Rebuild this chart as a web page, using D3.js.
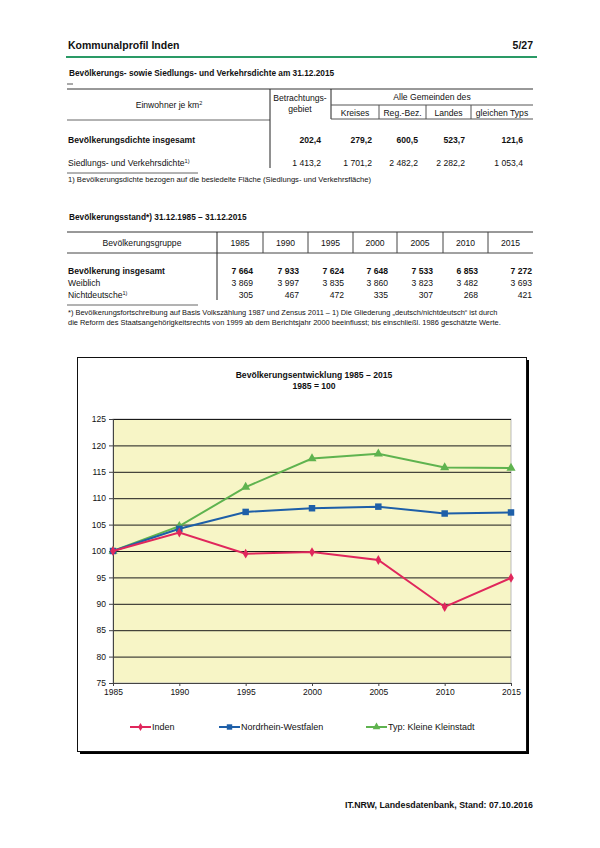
<!DOCTYPE html>
<html><head><meta charset="utf-8">
<script src="https://cdn.jsdelivr.net/npm/d3@7"></script>
<style>body{margin:0;background:#fff}svg{display:block;font-family:"Liberation Sans",Arial,sans-serif}</style>
</head><body>
<script>
// ---------- data ----------
const years = [1985, 1990, 1995, 2000, 2005, 2010, 2015];
const inden = [100, 103.5, 99.5, 99.8, 98.3, 89.4, 94.9];
const nrw = [100, 104.2, 107.4, 108.1, 108.4, 107.1, 107.3];
const typ = [100, 104.7, 112.1, 117.5, 118.4, 115.8, 115.7];
const seriesNames = ["Inden", "Nordrhein-Westfalen", "Typ: Kleine Kleinstadt"];
const yTicks = [75, 80, 85, 90, 95, 100, 105, 110, 115, 120, 125];

const densityHeads = ["Kreises", "Reg.-Bez.", "Landes", "gleichen Typs"];
const densityTotal = ["202,4", "279,2", "600,5", "523,7", "121,6"];
const densitySettle = ["1 413,2", "1 701,2", "2 482,2", "2 282,2", "1 053,4"];
const popTotal = ["7 664", "7 933", "7 624", "7 648", "7 533", "6 853", "7 272"];
const popFemale = ["3 869", "3 997", "3 835", "3 860", "3 823", "3 482", "3 693"];
const popForeign = ["305", "467", "472", "335", "307", "268", "421"];

// ---------- page ----------
const FS = 8.6;
const svg = d3.select("body").append("svg").attr("width", 600).attr("height", 848);
const T = (x, y, s, o = {}) => {
  const t = svg.append("text").attr("x", x).attr("y", y).text(s)
    .attr("font-size", o.size || FS).attr("fill", o.fill || "#111")
    .attr("text-anchor", o.anchor || "start");
  if (o.bold) t.attr("font-weight", "bold");
  return t;
};
const L = (x1, y1, x2, y2, o = {}) => svg.append("line").attr("x1", x1).attr("y1", y1).attr("x2", x2).attr("y2", y2)
  .attr("stroke", o.stroke || "#222").attr("stroke-width", o.w || 1);

// header
T(68, 49, "Kommunalprofil Inden", {size: 10.5, bold: true});
T(533, 49, "5/27", {size: 10.5, bold: true, anchor: "end"});
L(66, 57, 537, 57, {stroke: "#2a9a66", w: 2});
T(69, 76, "Bevölkerungs- sowie Siedlungs- und Verkehrsdichte am 31.12.2015", {size: 8.3, bold: true});

// table 1
L(67, 84, 73, 84, {stroke: "#555"});
L(67, 89, 533, 89, {stroke: "#333"});
L(67, 120, 270, 120, {stroke: "#666"});
L(270, 89, 270, 168, {stroke: "#222"});
L(331, 89, 331, 119);
L(331, 105, 533, 105, {stroke: "#555"});
L(331, 119, 533, 119, {stroke: "#555"});
const sub = [331, 379, 426, 471, 533];
[379, 426, 471].forEach(x => L(x, 105, x, 119, {stroke: "#555"}));
const t1 = T(169, 108, "Einwohner je km", {anchor: "middle"});
t1.append("tspan").attr("dy", -3).attr("font-size", 5.5).text("2");
T(300, 101, "Betrachtungs-", {anchor: "middle"});
T(300, 112, "gebiet", {anchor: "middle"});
T(432, 100, "Alle Gemeinden des", {anchor: "middle"});
densityHeads.forEach((h, i) => T((sub[i] + sub[i + 1]) / 2, 115.5, h, {anchor: "middle"}));
const t1Right = [321, 372, 418, 465, 523];
T(68, 143, "Bevölkerungsdichte insgesamt", {bold: true});
densityTotal.forEach((v, i) => T(t1Right[i], 143, v, {bold: true, anchor: "end"}));
const sv = T(68, 166, "Siedlungs- und Verkehrsdichte");
sv.append("tspan").attr("dy", -3).attr("font-size", 5.5).text("1)");
densitySettle.forEach((v, i) => T(t1Right[i], 166, v, {anchor: "end"}));
L(67, 173, 198, 173, {stroke: "#666"});
T(68, 182, "1) Bevölkerungsdichte bezogen auf die besiedelte Fläche (Siedlungs- und Verkehrsfläche)", {size: 7.6});

// table 2
T(69, 220, "Bevölkerungsstand*) 31.12.1985 – 31.12.2015", {size: 8.3, bold: true});
L(67, 232, 533, 232, {stroke: "#333"});
L(67, 253, 533, 253, {stroke: "#444"});
const cols = [217, 263, 308, 353, 397, 443, 488, 533];
L(217, 232, 217, 300, {stroke: "#222"});
cols.slice(1, 7).forEach(x => L(x, 232, x, 253, {stroke: "#444"}));
T(142, 246, "Bevölkerungsgruppe", {anchor: "middle"});
years.forEach((y, i) => T((cols[i] + cols[i + 1]) / 2, 246, y, {anchor: "middle"}));
const t2Right = [253, 299, 344, 388, 433, 478, 532];
T(68, 274, "Bevölkerung insgesamt", {bold: true});
popTotal.forEach((v, i) => T(t2Right[i], 274, v, {bold: true, anchor: "end"}));
T(68, 286, "Weiblich");
popFemale.forEach((v, i) => T(t2Right[i], 286, v, {anchor: "end"}));
const nd = T(68, 298, "Nichtdeutsche");
nd.append("tspan").attr("dy", -3).attr("font-size", 5.5).text("1)");
popForeign.forEach((v, i) => T(t2Right[i], 298, v, {anchor: "end"}));
L(67, 305, 198, 305, {stroke: "#666"});
T(68, 315, "*) Bevölkerungsfortschreibung auf Basis Volkszählung 1987 und Zensus 2011 – 1) Die Gliederung „deutsch/nichtdeutsch“ ist durch", {size: 7.45});
T(68, 325, "die Reform des Staatsangehörigkeitsrechts von 1999 ab dem Berichtsjahr 2000 beeinflusst; bis einschließl. 1986 geschätzte Werte.", {size: 7.45});

// ---------- chart ----------
svg.append("rect").attr("x", 80).attr("y", 751).attr("width", 449).attr("height", 3).attr("fill", "#000");
svg.append("rect").attr("x", 526).attr("y", 360).attr("width", 3).attr("height", 394).attr("fill", "#000");
svg.append("rect").attr("x", 77.5).attr("y", 357.5).attr("width", 449).attr("height", 394)
  .attr("fill", "#fff").attr("stroke", "#111").attr("stroke-width", 1);

T(314, 378, "Bevölkerungsentwicklung 1985 – 2015", {bold: true, anchor: "middle", size: 8.6});
T(314, 389, "1985 = 100", {bold: true, anchor: "middle", size: 8.6});

const x = d3.scaleLinear().domain([1985, 2015]).range([113, 511]);
const y = d3.scaleLinear().domain([75, 125]).range([683, 419]);

svg.append("rect").attr("x", x(1985)).attr("y", y(125)).attr("width", x(2015) - x(1985)).attr("height", y(75) - y(125))
  .attr("fill", "#f7f5c6").attr("stroke", "#bbb");

// gridlines
const grid = svg.append("g").attr("transform", `translate(${x(1985)},0)`)
  .call(d3.axisLeft(y).tickValues(yTicks).tickSize(-(x(2015) - x(1985))).tickFormat(""));
grid.select(".domain").remove();
grid.selectAll("line").attr("stroke", "#1a1a1a").attr("stroke-width", 1);

// y axis
const ya = svg.append("g").attr("transform", `translate(${x(1985)},0)`)
  .call(d3.axisLeft(y).tickValues(yTicks).tickSize(4).tickPadding(3).tickFormat(d3.format("d")));
ya.select(".domain").attr("stroke", "#444");
ya.selectAll("line").attr("stroke", "#444");
ya.selectAll("text").attr("font-size", 8.5).attr("fill", "#111").attr("font-family", "Liberation Sans, Arial, sans-serif");

// x axis
const xa = svg.append("g").attr("transform", `translate(0,${y(75)})`)
  .call(d3.axisBottom(x).tickValues(years).tickSize(3).tickPadding(3).tickFormat(d3.format("d")));
xa.select(".domain").attr("stroke", "#444");
xa.selectAll("line").attr("stroke", "#444");
xa.selectAll("text").attr("font-size", 8.5).attr("fill", "#111").attr("font-family", "Liberation Sans, Arial, sans-serif");

const series = [
  {name: seriesNames[0], vals: inden, color: "#e0275c", sym: d3.symbolDiamond, size: 28},
  {name: seriesNames[1], vals: nrw, color: "#1e5fa8", sym: d3.symbolSquare, size: 42},
  {name: seriesNames[2], vals: typ, color: "#5fb34f", sym: d3.symbolTriangle, size: 36}
];
const line = d3.line().x((d, i) => x(years[i])).y(d => y(d));
series.slice().reverse().forEach(s => {
  svg.append("path").datum(s.vals).attr("d", line).attr("fill", "none")
    .attr("stroke", s.color).attr("stroke-width", 2);
  svg.append("g").selectAll("path").data(s.vals).join("path")
    .attr("transform", (d, i) => `translate(${x(years[i])},${y(d)})`)
    .attr("d", d3.symbol().type(s.sym).size(s.size)).attr("fill", s.color);
});

// legend
const legX = [130, 219, 366];
series.forEach((s, i) => {
  L(legX[i], 727, legX[i] + 21, 727, {stroke: s.color, w: 2});
  svg.append("path").attr("transform", `translate(${legX[i] + 10.5},727)`)
    .attr("d", d3.symbol().type(s.sym).size(s.size * 0.7)).attr("fill", s.color);
  T(legX[i] + 22, 730, s.name, {size: 9});
});

// footer
T(533, 808, "IT.NRW, Landesdatenbank, Stand: 07.10.2016", {size: 8.8, bold: true, anchor: "end"});
</script>
</body></html>
